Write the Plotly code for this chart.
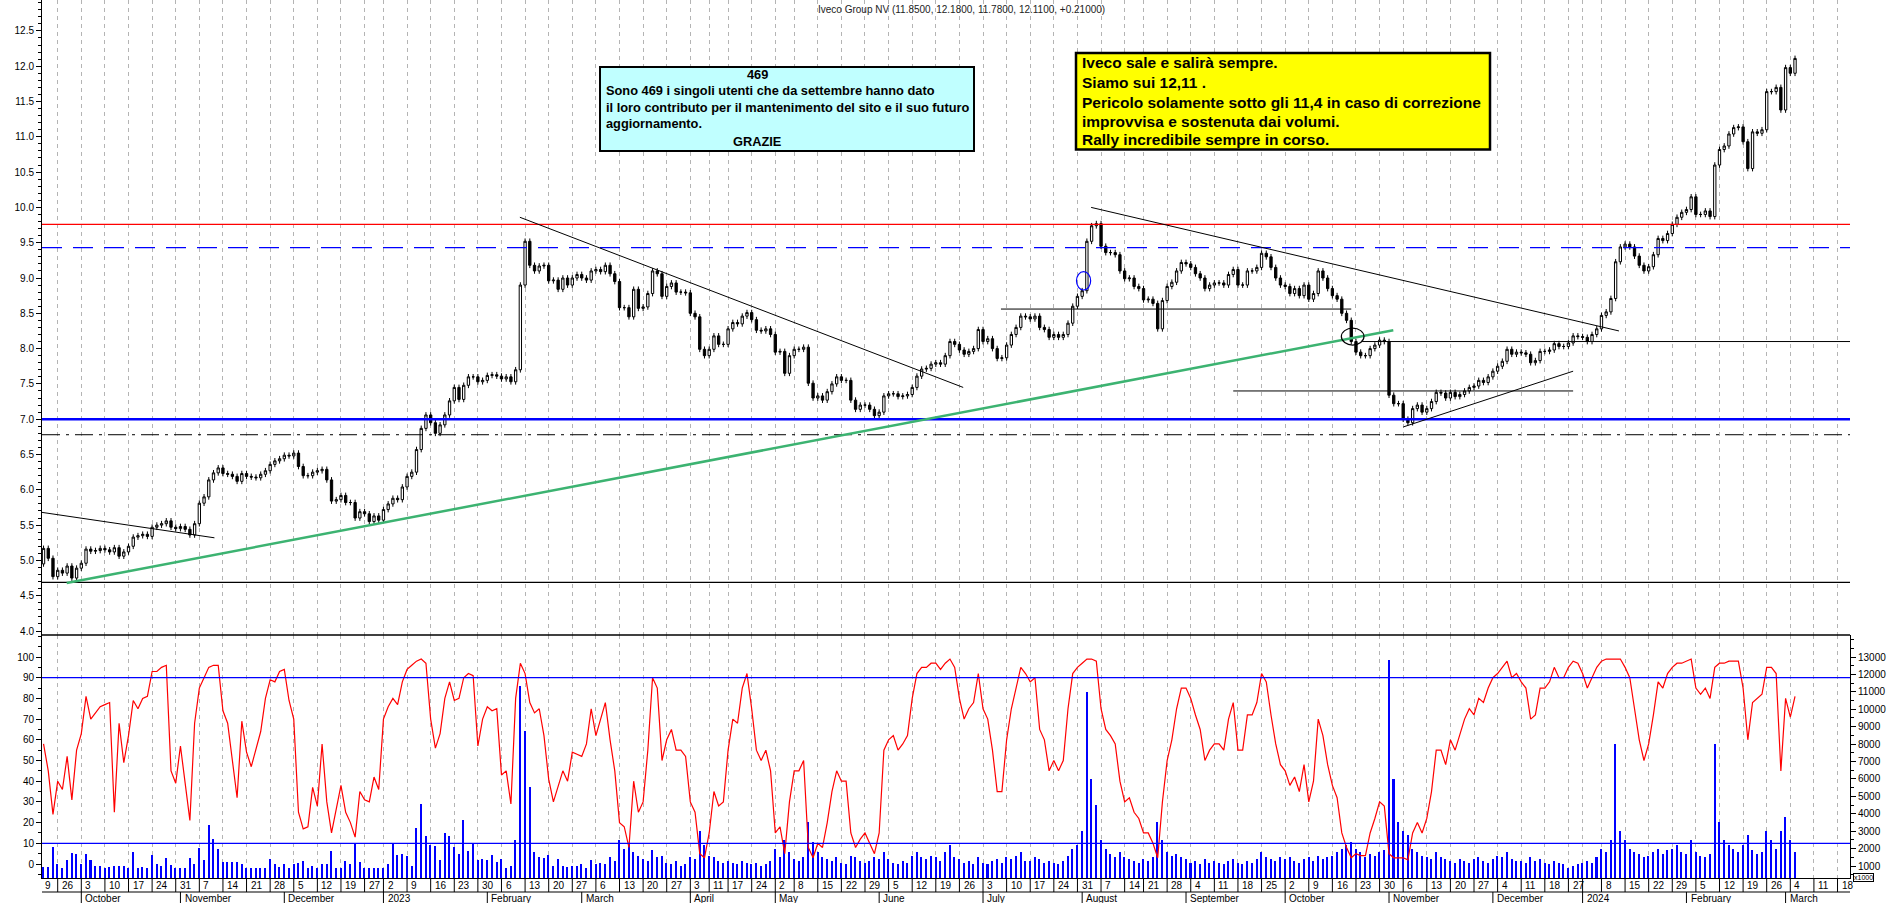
import plotly.graph_objects as go
import pandas as pd

# ---------------- data ----------------
HOLIDAYS = ["2022-12-26", "2023-04-07", "2023-04-10", "2023-05-01", "2023-08-15",
            "2023-12-25", "2023-12-26", "2024-01-01"]
CAL_START, CAL_END = "2022-09-19", "2024-03-29"
FIRST_DAY = "2022-09-21"
FIRST_OPEN = 4.95
SKIP_DAY_LABELS = ["2024-01-02"]

close = [
    5.17, 5.03, 4.77,
    4.86, 4.82, 4.92, 4.75, 4.89,
    4.96, 5.16, 5.13, 5.14, 5.17,
    5.15, 5.12, 5.18, 5.06, 5.12,
    5.20, 5.33, 5.35, 5.37, 5.34,
    5.47, 5.50, 5.52, 5.56, 5.47,
    5.45, 5.48, 5.44, 5.36, 5.52,
    5.81, 5.90, 6.14, 6.24, 6.31,
    6.23, 6.22, 6.19, 6.12, 6.23,
    6.19, 6.18, 6.17, 6.22, 6.27,
    6.36, 6.41, 6.44, 6.49, 6.48,
    6.52, 6.33, 6.20, 6.20, 6.25,
    6.27, 6.29, 6.14, 5.84, 5.86,
    5.92, 5.82, 5.82, 5.60, 5.69,
    5.66, 5.55, 5.63, 5.57,
    5.72, 5.80, 5.88, 5.86, 6.04,
    6.19, 6.25, 6.57, 6.87, 7.06,
    6.95, 6.80, 6.92, 7.06, 7.26,
    7.45, 7.28, 7.48, 7.60, 7.60,
    7.53, 7.55, 7.62, 7.63, 7.61,
    7.57, 7.60, 7.53, 7.70, 8.90,
    9.52, 9.18, 9.10, 9.17, 9.18,
    8.96, 8.97, 8.84, 9.00, 8.90,
    9.00, 9.05, 9.00, 8.97, 9.10,
    9.12, 9.09, 9.18, 9.06, 8.95,
    8.58, 8.58, 8.45, 8.84, 8.57,
    8.59, 8.78, 9.10, 9.06, 8.74,
    8.88, 8.93, 8.80, 8.80, 8.79,
    8.50, 8.45, 7.99, 7.90,
    7.99, 8.18, 8.06, 8.06,
    8.28, 8.37, 8.35, 8.46, 8.51,
    8.41, 8.26, 8.25, 8.28, 8.20,
    7.95, 7.96, 7.65, 7.90,
    7.99, 7.99, 8.02, 7.51, 7.30,
    7.33, 7.27, 7.39, 7.50, 7.60,
    7.55, 7.55, 7.27, 7.14, 7.20,
    7.20, 7.14, 7.05, 7.10, 7.33,
    7.36, 7.36, 7.32, 7.33, 7.35,
    7.45, 7.61, 7.71, 7.72, 7.78,
    7.80, 7.78, 7.90, 8.10, 8.06,
    7.98, 7.92, 7.96, 8.00, 8.27,
    8.10, 8.14, 8.00, 7.86, 7.87,
    8.05, 8.20, 8.30, 8.46, 8.45,
    8.42, 8.46, 8.30, 8.27, 8.16,
    8.20, 8.16, 8.20, 8.36, 8.60,
    8.74, 8.82, 9.52, 9.74, 9.77,
    9.45, 9.36, 9.36, 9.33, 9.10,
    8.99, 9.00, 8.88, 8.85,
    8.69, 8.70, 8.64, 8.28, 8.68,
    8.88, 8.94, 9.10, 9.22, 9.20,
    9.15, 9.06, 9.00, 8.85, 8.90,
    8.93, 8.93, 8.90, 9.05, 9.12,
    8.90, 8.90, 9.10, 9.10, 9.15,
    9.35, 9.30, 9.15, 9.00, 8.90,
    8.88, 8.78, 8.85, 8.75, 8.90,
    8.70, 8.78, 9.10, 9.00, 8.85,
    8.75, 8.70, 8.50, 8.40, 8.10,
    7.95, 7.90, 7.90, 8.00, 8.05,
    8.12, 8.10, 7.34, 7.22, 7.22,
    7.00, 6.95, 7.15, 7.20, 7.10,
    7.15, 7.25, 7.38, 7.37, 7.30,
    7.38, 7.32, 7.35, 7.40, 7.45,
    7.47, 7.55, 7.52, 7.60, 7.68,
    7.75, 7.82, 7.99, 7.92, 7.95,
    7.94, 7.92, 7.80, 7.83, 7.96,
    7.96, 7.98, 8.07, 8.03, 8.03,
    8.08, 8.18, 8.17,
    8.16, 8.10, 8.20, 8.28,
    8.47, 8.52, 8.71, 9.23, 9.44,
    9.48, 9.44, 9.31, 9.18, 9.10,
    9.16, 9.33, 9.56, 9.53, 9.63,
    9.76, 9.86, 9.93, 9.97, 10.15,
    9.90, 9.90, 9.95, 9.87, 10.60,
    10.82, 10.87, 11.04, 11.13, 11.14,
    10.93, 10.55, 11.07, 11.05, 11.10,
    11.64, 11.64, 11.70, 11.38, 11.98,
    11.90, 12.11,
]

stoch = [
    58, 45, 24, 40, 36, 52, 31, 55, 63, 81,
    70, 73, 76, 77, 78, 25, 68, 49, 62, 79,
    75, 80, 81, 93, 93, 95, 96, 45, 39, 57,
    38, 21, 68, 85, 90, 95, 96, 96, 74, 68,
    50, 32, 69, 54, 47, 56, 64, 80, 89, 88,
    93, 94, 79, 70, 25, 17, 18, 37, 28, 58,
    30, 15, 26, 38, 25, 20, 13, 35, 31, 30,
    42, 36, 70, 76, 80, 77, 88, 94, 96, 98,
    99, 97, 70, 56, 63, 80, 88, 79, 80, 90,
    92, 91, 57, 70, 76, 74, 75, 43, 45, 29,
    80, 97, 92, 78, 73, 75, 62, 41, 30, 38,
    45, 40, 54, 53, 52, 58, 75, 62,
    70, 78, 60, 45,
    20, 18, 8, 40, 25,
    30, 55, 90, 85, 50,
    60, 65, 55, 55, 52,
    30, 25, 5, 3,
    15, 35, 28, 30,
    55, 70, 68, 85, 92,
    75, 55, 50, 55, 45,
    15, 18, 5, 30,
    45, 45, 50, 8, 3,
    10, 8, 20, 35, 45,
    40, 40, 15, 8, 12,
    15, 10, 5, 15, 55,
    60, 62, 55, 58, 62,
    80, 92, 95, 95, 97,
    97, 94, 97, 99, 95,
    80, 70, 75, 78, 92,
    75, 70, 55, 35, 35,
    60, 75, 85, 95, 92,
    88, 90, 65, 60, 45,
    50, 45, 50, 75, 92,
    95, 97, 99, 99, 98,
    75, 65, 62, 58, 40,
    30, 32, 25, 22,
    15, 15, 10, 3, 30,
    50, 60, 75, 85, 85,
    80, 72, 65, 50, 55,
    58, 58, 55, 70, 78,
    55, 55, 72, 72, 78,
    92, 88, 72, 58, 48,
    45, 38, 42, 35, 48,
    30, 40, 70, 62, 48,
    38, 32, 15, 8, 3,
    5, 4, 4, 15, 22,
    30, 28, 5, 3, 3,
    3, 2, 15, 20, 15,
    22, 35, 55, 55, 48,
    60, 55, 62, 70, 75,
    72, 80, 78, 85, 90,
    92, 95, 98, 90, 92,
    88, 85, 70, 72, 85,
    85, 88, 95, 90, 90,
    95, 98, 97,
    92, 85, 90, 95,
    98, 99, 99, 99, 99,
    95, 90, 75, 60, 50,
    58, 72, 88, 85, 92,
    95, 97, 97, 98, 99,
    85, 82, 85, 80, 95,
    97, 97, 98, 98, 98,
    85, 60, 78, 80, 82,
    95, 95, 92, 45, 80,
    71, 81,
]

volume = [  # thousands of shares
    936, 936, 2067, 1115, 877, 1353, 1770, 1710, 1115, 1710,
    1353, 996, 996, 860, 936, 996, 996, 996, 860, 1829,
    860, 936, 877, 1651, 1115, 996, 1472, 1055, 860, 860,
    860, 1472, 1115, 2007, 1353, 3376, 2543, 1948, 1234, 1234,
    1234, 1234, 1115, 860, 860, 860, 860, 900, 1412, 1115,
    936, 1115, 860, 1115, 1175, 1294, 860, 996, 860, 1115,
    1115, 1888, 877, 860, 1294, 1115, 2305, 1234, 860, 877,
    860, 860, 900, 1115, 2305, 1650, 1710, 1591, 996, 3197,
    4566, 2722, 2186, 2127, 1353, 2900, 2722, 2067, 1710, 3614,
    1888, 2305, 1353, 1412, 1353, 1650, 1234, 1412, 900, 996,
    2484, 11350, 8731, 5518, 1829, 1532, 1472, 1650, 996, 1412,
    996, 936, 996, 996, 1115, 877, 1353, 1115,
    1200, 1100, 1500, 1300,
    2500, 2000, 2300, 1800, 1600,
    1400, 1300, 1900, 1500, 1600,
    1200, 1100, 1300, 1000, 1100,
    1500, 1400, 3000, 2200,
    1600, 1500, 1300, 1200,
    1300, 1200, 1100, 1300, 1200,
    1100, 1200, 1000, 1100, 1300,
    2000, 1500, 2500, 1800,
    1400, 1300, 1500, 3500, 2400,
    1800, 1500, 1400, 1300, 1500,
    1200, 1100, 1600, 1500, 1300,
    1200, 1300, 1500, 1400, 1800,
    1400, 1200, 1100, 1300, 1200,
    1600, 1800, 1500, 1400, 1600,
    1500, 1300, 1800, 2200, 1500,
    1400, 1200, 1300, 1100, 1500,
    1200, 1100, 1300, 1400, 1200,
    1500, 1400, 1600, 1800, 1300,
    1300, 1500, 1400, 1200, 1300,
    1200, 1100, 1300, 1600, 2000,
    2200, 3000, 11000, 6000, 4500,
    2500, 2000, 1700, 1500, 1800,
    1500, 1400, 1300, 1200,
    1400, 1300, 1500, 3500, 2500,
    1800, 1600, 1700, 1500, 1400,
    1200, 1300, 1100, 1400, 1200,
    1300, 1200, 1100, 1300, 1400,
    1200, 1100, 1300, 1200, 1400,
    1800, 1500, 1400, 1300, 1500,
    1400, 1500, 1300, 1200, 1400,
    1500, 1300, 1600, 1400, 1500,
    1600, 1800, 2000, 2200, 2400,
    2000, 1800, 1500, 1700, 1600,
    1800, 1900, 12800, 6000, 3500,
    3000, 2800, 2000, 1800, 1600,
    1500, 1400, 1800, 1500, 1400,
    1300, 1200, 1400, 1300, 1200,
    1400, 1500, 1300, 1200, 1400,
    1600, 1500, 1800, 1400, 1300,
    1300, 1200, 1500, 1300, 1400,
    1200, 1100, 1300, 1200, 1100,
    900, 1000, 1100,
    1200, 1300, 1200, 1500,
    2000, 1800, 2500, 8000, 3000,
    2500, 2000, 1800, 1700, 1500,
    1600, 1800, 2000, 1700, 1900,
    2000, 2200, 1800, 1700, 2500,
    1800, 1600, 1500, 1700, 8000,
    3500, 2500, 2200, 2000, 1800,
    2200, 2800, 1900, 1700, 1800,
    3000, 2500, 2000, 3000, 3800,
    2500, 1800,
]

price_ticks = [4.0 + 0.5 * k for k in range(18)]
stoch_ticks = list(range(0, 101, 10))
volume_ticks = list(range(1000, 13001, 1000))

# horizontal levels (price)
RED_LEVEL, BLUE_DASH_LEVEL, BLUE_LEVEL, DASHDOT_LEVEL, BASE_LEVEL = 9.76, 9.43, 7.0, 6.78, 4.69
STOCH_HIGH, STOCH_LOW = 90, 10
# trend lines: (day0, price0, day1, price1)
trend_black = [(-0.33, 5.68, 36.2, 5.32), (100.9, 9.86, 194.8, 7.45),
               (221.9, 10.0, 333.7, 8.25), (288.0, 6.89, 324.0, 7.68)]
trend_green = (4.9, 4.68, 285.9, 8.26)
hsegments = [(202.8, 277.0, 8.56), (279.3, None, 8.10), (252.0, 324.0, 7.40)]
ellipses = [(220.3, 8.96, 1.5, 0.13, "blue"), (277.3, 8.17, 2.4, 0.12, "black")]

TITLE = "Iveco Group NV (11.8500, 12.1800, 11.7800, 12.1100, +0.21000)"
cyan_lines = ["469",
              "Sono 469 i singoli utenti che da settembre hanno dato",
              "il loro contributo per il mantenimento del sito e il suo futuro",
              "aggiornamento.",
              "GRAZIE"]
yellow_lines = ["Iveco sale e salirà sempre.",
                "Siamo sui 12,11 .",
                "Pericolo solamente sotto gli 11,4 in caso di correzione",
                "improvvisa e sostenuta dai volumi.",
                "Rally incredibile sempre in corso."]
MONTHS = ["", "January", "February", "March", "April", "May", "June", "July",
          "August", "September", "October", "November", "December"]

# ---------------- calendar / x positions ----------------
cal = [d for d in pd.bdate_range(CAL_START, CAL_END) if d.strftime("%Y-%m-%d") not in HOLIDAYS]
keys = [d.strftime("%Y-%m-%d") for d in cal]
p0 = keys.index(FIRST_DAY)
n = min(len(close), len(stoch), len(volume))
xs = list(range(n))
opens = [FIRST_OPEN] + close[:n - 1]
WICK = 0.04
highs = [max(o, c) + WICK for o, c in zip(opens, close[:n])]
lows = [min(o, c) - WICK for o, c in zip(opens, close[:n])]

# figure geometry (pixels)
W, H = 1890, 903
PL, PR, PT, PB = 42, 1850, 0, 878
SEP = 635
PXDAY = 4.721
X0PX = 43.54
xmin = (PL - X0PX) / PXDAY
xmax = (PR - X0PX) / PXDAY
split = (PB - SEP) / (PB - PT)
price_range = [4.0 - (SEP - 631) / 70.6, 4.0 + (631 - PT) / 70.6]
stoch_range = [(864 - PB) / 2.07, (864 - SEP) / 2.07]
vol_range = [1000 - (PB - 866) / 17.42 * 1000, 13000 + (657 - SEP) / 17.42 * 1000]

def py(p):  # pixel y -> paper
    return (PB - p) / (PB - PT)

def pxp(p):  # pixel x -> paper
    return (p - PL) / (PR - PL)

week_starts, month_starts = [], []
for k, d in enumerate(cal):
    i = k - p0
    if k == 0 or d.isocalendar()[1] != cal[k - 1].isocalendar()[1]:
        week_starts.append((i, d))
    if k != 0 and d.month != cal[k - 1].month:
        month_starts.append((i, d))

fig = go.Figure()

fig.add_trace(go.Bar(x=xs, y=volume[:n], xaxis="x2", yaxis="y3", width=0.32,
                     marker=dict(color="#0000ff", line=dict(width=0)), showlegend=False))
fig.add_trace(go.Scatter(x=xs, y=stoch[:n], xaxis="x2", yaxis="y4", mode="lines",
                         line=dict(color="#ff0000", width=1.2), showlegend=False))
fig.add_trace(go.Candlestick(x=xs, open=opens, high=highs, low=lows, close=close[:n],
                             xaxis="x", yaxis="y", whiskerwidth=0,
                             increasing=dict(line=dict(color="black", width=1), fillcolor="white"),
                             decreasing=dict(line=dict(color="black", width=1), fillcolor="black"),
                             showlegend=False))

shapes = []
def hline(y, color, width, dash="solid", yref="y"):
    shapes.append(dict(type="line", xref="x", yref=yref, x0=xmin, x1=xmax, y0=y, y1=y,
                       line=dict(color=color, width=width, dash=dash), layer="above"))

hline(RED_LEVEL, "#ff0000", 1.3)
hline(BLUE_DASH_LEVEL, "#0000ff", 1.3, "20px,11px")
hline(BLUE_LEVEL, "#0000ff", 2.5)
hline(DASHDOT_LEVEL, "black", 1, "18px,6px,3px,6px")
hline(BASE_LEVEL, "black", 1.3)
hline(STOCH_HIGH, "#0000ff", 1.3, yref="y4")
hline(STOCH_LOW, "#0000ff", 1.3, yref="y4")
for (a, pa, b, pb) in trend_black:
    shapes.append(dict(type="line", xref="x", yref="y", x0=a, y0=pa, x1=b, y1=pb,
                       line=dict(color="black", width=1)))
a, pa, b, pb = trend_green
shapes.append(dict(type="line", xref="x", yref="y", x0=a, y0=pa, x1=b, y1=pb,
                   line=dict(color="#3cb371", width=2.5)))
for (a, b, lvl) in hsegments:
    shapes.append(dict(type="line", xref="x", yref="y", x0=a, x1=(xmax if b is None else b),
                       y0=lvl, y1=lvl, line=dict(color="black", width=1)))
for (cx, cy, rx, ry, col) in ellipses:
    shapes.append(dict(type="circle", xref="x", yref="y", x0=cx - rx, x1=cx + rx,
                       y0=cy - ry, y1=cy + ry, line=dict(color=col, width=1.2)))
# panel separator
shapes.append(dict(type="line", xref="paper", yref="paper", x0=0, x1=1, y0=split, y1=split,
                   line=dict(color="black", width=1.5)))
# text boxes
shapes.append(dict(type="rect", xref="paper", yref="paper", x0=pxp(600), x1=pxp(974),
                   y0=py(151), y1=py(67), fillcolor="#c0ffff", line=dict(color="black", width=2)))
shapes.append(dict(type="rect", xref="paper", yref="paper", x0=pxp(1076), x1=pxp(1490),
                   y0=py(149.5), y1=py(53), fillcolor="#ffff00", line=dict(color="black", width=2.5)))

# date axis rows
ROW1, ROW2 = 892, 903
shapes.append(dict(type="line", xref="paper", yref="paper", x0=0, x1=1, y0=py(ROW1), y1=py(ROW1),
                   line=dict(color="black", width=1.2)))
annotations = []
axfont = dict(size=10, color="black", family="Liberation Sans")
for (i, d) in week_starts:
    if i > xmax:
        continue
    if i >= xmin:
        shapes.append(dict(type="line", xref="x", yref="paper", x0=i, x1=i, y0=py(PB), y1=py(ROW1),
                           line=dict(color="black", width=1)))
    if d.strftime("%Y-%m-%d") in SKIP_DAY_LABELS:
        continue
    txt = str(d.day)
    xpos = i + 0.45
    if i < xmin:
        txt = txt[-1]
        xpos = xmin + 0.2
    annotations.append(dict(xref="x", yref="paper", x=xpos, y=py(885.5), text=txt, showarrow=False,
                            xanchor="left", yanchor="middle", font=axfont))
for (i, d) in month_starts:
    if i > xmax:
        continue
    shapes.append(dict(type="line", xref="x", yref="paper", x0=i, x1=i, y0=py(ROW1), y1=py(ROW2),
                       line=dict(color="black", width=1)))
    txt = str(d.year) if d.month == 1 else MONTHS[d.month]
    annotations.append(dict(xref="x", yref="paper", x=i + 0.45, y=py(898.5), text=txt, showarrow=False,
                            xanchor="left", yanchor="middle", font=axfont))

# title
annotations.append(dict(xref="paper", yref="paper", x=pxp(961), y=py(9), text=TITLE, showarrow=False,
                        xanchor="center", yanchor="middle",
                        font=dict(size=10, color="#222222", family="Liberation Sans")))
# cyan box text
cy_y = [75, 91, 107.5, 124, 141]
for k, (t, yy) in enumerate(zip(cyan_lines, cy_y)):
    centered = k in (0, 4)
    annotations.append(dict(xref="paper", yref="paper", x=pxp(757) if centered else pxp(604), y=py(yy),
                            text="<b>%s</b>" % t, showarrow=False,
                            xanchor="center" if centered else "left", yanchor="middle",
                            font=dict(size=12.8, color="black", family="Liberation Sans")))
ye_y = [63, 82, 102, 121, 140]
for t, yy in zip(yellow_lines, ye_y):
    annotations.append(dict(xref="paper", yref="paper", x=pxp(1080), y=py(yy), text="<b>%s</b>" % t,
                            showarrow=False, xanchor="left", yanchor="middle",
                            font=dict(size=15.5, color="black", family="Liberation Sans")))
annotations.append(dict(xref="paper", yref="paper", x=pxp(1853), y=py(877), text="x1000",
                        showarrow=False, xanchor="left", yanchor="middle", bordercolor="black",
                        borderwidth=1, borderpad=0, font=dict(size=7, color="black")))

tickfont = dict(size=10, color="black", family="Liberation Sans")
grid_vals = [i for (i, d) in week_starts if xmin <= i <= xmax]
xcommon = dict(range=[xmin, xmax], showticklabels=False, ticks="", tickmode="array",
               tickvals=grid_vals, showgrid=True, gridcolor="#b4b4b4", griddash="4px,4px",
               gridwidth=1, zeroline=False)
yprice = dict(range=price_range, tickmode="array", tickvals=price_ticks,
              ticktext=["%.1f" % v for v in price_ticks], ticks="outside", ticklen=5,
              tickcolor="black", showline=True, linecolor="black", linewidth=1,
              showgrid=False, zeroline=False, tickfont=tickfont,
              minor=dict(tickmode="linear", tick0=4.0, dtick=0.1, ticks="outside", ticklen=3,
                         tickcolor="black", showgrid=False))

fig.update_layout(
    width=W, height=H,
    margin=dict(l=PL, r=W - PR, t=PT, b=H - PB, pad=0),
    paper_bgcolor="white", plot_bgcolor="white",
    showlegend=False, bargap=0,
    font=dict(family="Liberation Sans", size=10, color="black"),
    xaxis=dict(domain=[0, 1], anchor="y", **xcommon),
    xaxis2=dict(domain=[0, 1], anchor="y3", matches="x", showline=True, linecolor="black",
                linewidth=1, **xcommon),
    yaxis=dict(domain=[split, 1], anchor="x", side="left", **yprice),
    yaxis2=dict(overlaying="y", anchor="x", side="right", **yprice),
    yaxis3=dict(domain=[0, split], anchor="x2", side="right", range=vol_range, tickmode="array",
                tickvals=volume_ticks, ticktext=[str(v) for v in volume_ticks], ticks="outside",
                ticklen=5, tickcolor="black", showline=True, linecolor="black", showgrid=False,
                zeroline=False, tickfont=tickfont,
                minor=dict(tickmode="linear", tick0=0, dtick=500, ticks="outside", ticklen=3,
                           tickcolor="black", showgrid=False)),
    yaxis4=dict(overlaying="y3", anchor="x2", side="left", range=stoch_range, tickmode="array",
                tickvals=stoch_ticks, ticktext=[str(v) for v in stoch_ticks], ticks="outside",
                ticklen=5, tickcolor="black", showline=True, linecolor="black", showgrid=False,
                zeroline=False, tickfont=tickfont,
                minor=dict(tickmode="linear", tick0=0, dtick=5, ticks="outside", ticklen=3,
                           tickcolor="black", showgrid=False)),
    shapes=shapes,
    annotations=annotations,
)
fig.update_xaxes(rangeslider_visible=False)

fig.write_html("out.html", config={"displayModeBar": False},
               post_script="document.body.style.margin='0';document.body.style.overflow='hidden';")
